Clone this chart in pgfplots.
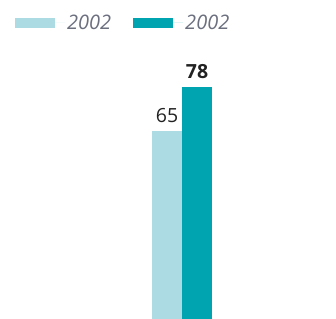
\documentclass[border=0pt]{standalone}
\usepackage{pgfplots}
\pgfplotsset{compat=1.18}
\usepackage{fontspec}
\setmainfont{Open Sans}
\definecolor{lightbar}{HTML}{ADDBE3}
\definecolor{tealbar}{HTML}{00A4B0}
\definecolor{legtext}{HTML}{6B6F7E}
\definecolor{labtext}{HTML}{222222}
\begin{document}
\begin{tikzpicture}
\begin{axis}[
  scale only axis,
  width=336pt, height=319pt,
  axis lines=none,
  xmin=-5.567, xmax=5.633,
  ymin=9.4, ymax=103.6,
  ybar, bar width=30pt, bar shift=0pt,
  /pgf/number format/assume math mode=true,
  nodes near coords,
  every node near coord/.append style={font=\fontsize{19.5}{23}\selectfont, text=labtext, inner sep=0pt, anchor=south, yshift=7.5pt},
  legend columns=2,
  legend style={at={(axis description cs:0.0446,0.928)}, anchor=west, draw=none, fill=none, inner sep=0pt,
    font=\fontsize{20}{24}\selectfont\itshape, text=legtext,
    /tikz/every even column/.append style={column sep=20pt}},
  legend image code/.code={\fill[#1,draw=none] (0pt,-5pt) rectangle (40pt,5pt); \path (0pt,0pt) -- (50pt,0pt);},
]
\addplot[fill=lightbar, draw=none] coordinates {(0,65)};
\addplot[fill=tealbar, draw=none, every node near coord/.append style={font=\fontsize{19.5}{23}\selectfont\bfseries}] coordinates {(1,78)};
\legend{2002,2002}
\end{axis}
\path (current axis.south west) rectangle (current axis.north east);
\end{tikzpicture}
\end{document}
